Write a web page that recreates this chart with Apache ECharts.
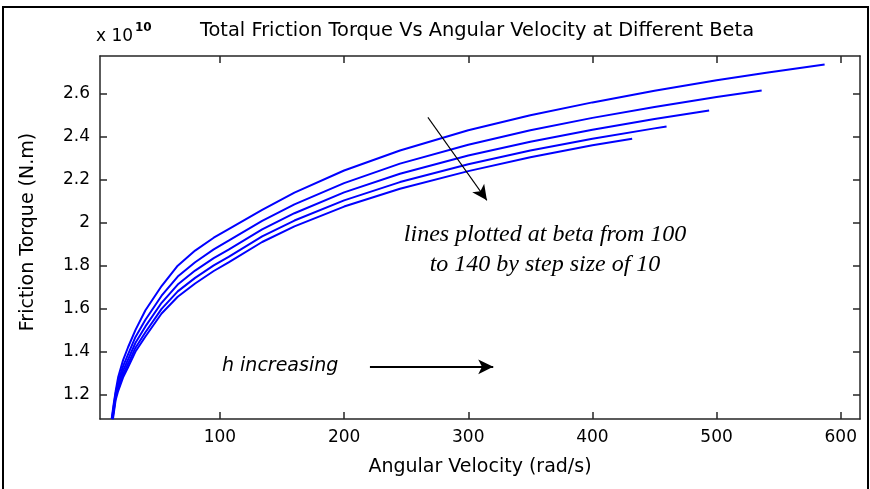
<!DOCTYPE html>
<html>
<head>
<meta charset="utf-8">
<script src="https://cdn.jsdelivr.net/npm/echarts@6/dist/echarts.min.js"></script>
<style>
  html, body { margin: 0; padding: 0; background: #fff; }
  #chart { width: 870px; height: 489px; }
</style>
</head>
<body>
<div id="chart"></div>
<script>
// torque values are in units of 1e10 N.m, as on the axis
const beta100 = [[12.8,1.086],[14.1,1.143],[16,1.215],[18,1.28],[22,1.36],[26,1.42],[32,1.501],[40,1.592],[53,1.705],[66,1.80],[80,1.87],[95,1.93],[107,1.97],[134,2.06],[160,2.14],[200,2.243],[245,2.336],[300,2.43],[350,2.50],[400,2.56],[450,2.614],[500,2.663],[540,2.698],[587,2.736]]
const beta110 = [[13.0,1.086],[16,1.206],[18,1.259],[22,1.332],[26,1.387],[32,1.468],[40,1.548],[53,1.660],[66,1.749],[80,1.816],[95,1.876],[107,1.916],[134,2.008],[160,2.085],[200,2.184],[245,2.275],[300,2.363],[350,2.430],[400,2.488],[450,2.539],[500,2.585],[536.3,2.615]]
const beta120 = [[13.3,1.086],[16,1.196],[18,1.243],[22,1.311],[26,1.363],[32,1.441],[40,1.517],[53,1.627],[66,1.712],[80,1.777],[95,1.835],[107,1.875],[134,1.969],[160,2.044],[200,2.141],[245,2.228],[300,2.313],[350,2.377],[400,2.433],[450,2.483],[494,2.522]]
const beta130 = [[13.5,1.086],[16,1.187],[18,1.230],[22,1.294],[26,1.343],[32,1.418],[40,1.490],[53,1.599],[66,1.680],[80,1.743],[95,1.801],[107,1.841],[134,1.936],[160,2.010],[200,2.104],[245,2.189],[300,2.272],[350,2.336],[400,2.391],[450,2.439],[459.7,2.448]]
const beta140 = [[13.8,1.086],[16,1.175],[18,1.216],[22,1.28],[26,1.327],[32,1.40],[40,1.47],[53,1.577],[66,1.655],[80,1.717],[95,1.775],[107,1.815],[134,1.91],[160,1.983],[200,2.075],[245,2.158],[300,2.24],[350,2.305],[400,2.36],[432,2.391]]

const betaNames = ['beta 100', 'beta 110', 'beta 120', 'beta 130', 'beta 140']
const xTicks = [100, 200, 300, 400, 500, 600]
const yTicks = [1.2, 1.4, 1.6, 1.8, 2, 2.2, 2.4, 2.6]

// annotation arrows, in data coordinates
const hArrow = [[220.8, 1.329], [320.1, 1.329]]
const betaArrow = [[267.5, 2.490], [315.0, 2.104]]

const FONT = '"DejaVu Sans", sans-serif'
const AXIS_COLOR = '#262626'

const chart = echarts.init(document.getElementById('chart'))

function boxAxis(show, extra) {
  return Object.assign({
    type: 'value',
    axisLine: { show: true, onZero: false, lineStyle: { color: AXIS_COLOR, width: 1.5 } },
    axisTick: { show: true, inside: true, length: 7, lineStyle: { color: AXIS_COLOR, width: 1.5 } },
    axisLabel: { show: show, color: '#000', fontFamily: FONT, fontSize: 17, margin: 10 },
    splitLine: { show: false },
  }, extra)
}

const xRange = { min: 3.4, max: 615.5 }
const yRange = { min: 1.086, max: 2.776 }

const xAxes = [
  boxAxis(true, { position: 'bottom', ...xRange }),
  boxAxis(false, { position: 'top', ...xRange }),
]
const yAxes = [
  boxAxis(true, { position: 'left', ...yRange }),
  boxAxis(false, { position: 'right', ...yRange }),
]
xAxes.forEach(a => { a.axisTick.customValues = xTicks; a.axisLabel.customValues = xTicks })
yAxes.forEach(a => {
  a.axisTick.customValues = yTicks
  a.axisLabel.customValues = yTicks
  a.axisLabel.formatter = v => String(+v.toFixed(1))
})

const arrowLine = (pts, w) => [
  { coord: pts[0], lineStyle: { color: '#000', width: w, type: 'solid' } },
  { coord: pts[1] },
]

const series = [beta100, beta110, beta120, beta130, beta140].map((d, i) => ({
  name: betaNames[i],
  type: 'line',
  data: d,
  showSymbol: false,
  clip: true,
  lineStyle: { color: '#0000ff', width: 2 },
  itemStyle: { color: '#0000ff' },
  emphasis: { disabled: true },
}))

series[0].markLine = {
  silent: true,
  symbol: ['none', 'arrow'],
  symbolSize: [11, 15],
  label: { show: false },
  emphasis: { disabled: true },
  data: [arrowLine(hArrow, 1.8), arrowLine(betaArrow, 1.1)],
}

chart.setOption({
  animation: false,
  backgroundColor: '#fff',
  grid: { left: 100, top: 56, right: 10, bottom: 70 },
  xAxis: xAxes,
  yAxis: yAxes,
  series: series,
  graphic: [
    // outer figure frame
    { type: 'rect', shape: { x: 3, y: 7, width: 865, height: 490 },
      style: { fill: null, stroke: '#000', lineWidth: 2 }, silent: true },
    { type: 'text', x: 477, y: 31,
      style: { text: 'Total Friction Torque Vs Angular Velocity at Different Beta', font: '19.4px ' + FONT,
        fill: '#000', align: 'center', verticalAlign: 'middle' } },
    { type: 'text', x: 96, y: 37,
      style: { text: 'x 10', font: '17px ' + FONT, fill: '#000', align: 'left', verticalAlign: 'middle' } },
    { type: 'text', x: 135, y: 28,
      style: { text: '10', font: 'bold 12px ' + FONT, fill: '#000', align: 'left', verticalAlign: 'middle' } },
    { type: 'text', x: 480, y: 467,
      style: { text: 'Angular Velocity (rad/s)', font: '19px ' + FONT, fill: '#000', align: 'center', verticalAlign: 'middle' } },
    { type: 'text', x: 28, y: 232, rotation: Math.PI / 2,
      style: { text: 'Friction Torque (N.m)', font: '19px ' + FONT, fill: '#000', align: 'center', verticalAlign: 'middle' } },
    { type: 'text', x: 222, y: 366,
      style: { text: 'h increasing', font: 'oblique 19px ' + FONT, fill: '#000', align: 'left', verticalAlign: 'middle' } },
    { type: 'text', x: 545, y: 250,
      style: { text: 'lines plotted at beta from 100\nto 140 by step size of 10', font: 'italic 24px "Liberation Serif", serif',
        lineHeight: 30, fill: '#000', align: 'center', verticalAlign: 'middle' } },
  ],
})
</script>
</body>
</html>
